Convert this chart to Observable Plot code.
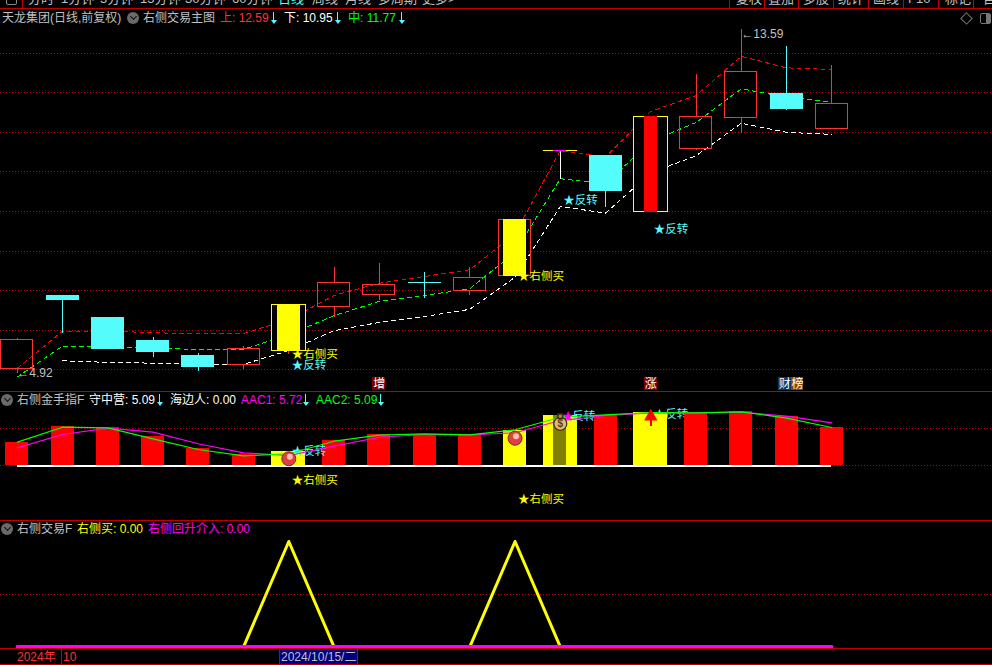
<!DOCTYPE html>
<html><head><meta charset="utf-8">
<script src="https://cdn.jsdelivr.net/npm/d3@7"></script>
<script src="https://cdn.jsdelivr.net/npm/@observablehq/plot@0.6"></script>
<style>
html,body{margin:0;padding:0;background:#000;overflow:hidden}
#page{position:relative;width:992px;height:665px;background:#000;overflow:hidden;font-family:"Liberation Sans","Noto Sans CJK SC",sans-serif;font-size:12px}
.t{position:absolute;white-space:nowrap;transform:translateY(-50%);line-height:1}
.p{position:absolute;left:0}
.p svg{display:block;background:transparent}
.h{position:absolute;left:0;width:992px;height:1px}
.v{position:absolute;width:1px}
.ic{position:absolute;width:12px;height:12px;border-radius:50%;background:#6a6a6a;transform:translate(-50%,-50%)}
.ic:after{content:"";position:absolute;left:3.5px;top:2px;width:4px;height:4px;border-right:1.5px solid #111;border-bottom:1.5px solid #111;transform:rotate(45deg)}
.as{position:absolute;width:1px;height:9px;background:#54fcfc}
.ah{position:absolute;width:0;height:0;border-left:3px solid transparent;border-right:3px solid transparent;border-top:4px solid #54fcfc}
</style></head><body><div id="page"></div>
<script>
// --- Main panel: candles (prices)
const bodyTop = [5.76,6.88,6.32,5.74,5.36,5.53,6.63,7.20,7.15,7.20,7.33,8.79,10.53,10.41,11.40,11.39,12.53,11.98,11.72];
const bodyBot = [5.02,6.76,5.52,5.44,5.06,5.12,5.47,6.58,6.89,7.20,6.99,7.37,10.53,9.50,8.98,10.57,11.36,11.58,11.08];
const highs   = [5.80,6.88,6.32,5.82,5.41,5.59,6.63,7.58,7.70,7.45,7.58,8.79,10.53,10.41,11.42,12.46,13.59,13.17,12.69];
const lows    = [4.92,5.93,5.52,5.31,4.96,5.01,5.39,6.33,6.75,6.81,6.88,7.37,9.80,9.10,8.98,10.54,10.98,11.55,11.08];
const kinds   = ["hollow","fill","fill","fill","fill","hollow","yellowBox","hollow","hollow","cross","hollow","redBox","flat","fill","redInYellow","hollow","hollow","fill","hollow"];
const upper = [5.04,5.98,5.98,5.94,5.91,5.92,6.27,6.88,7.19,7.36,7.53,8.44,10.54,10.38,11.53,11.93,12.92,12.63,12.59];
const middle= [4.82,5.60,5.57,5.56,5.51,5.52,5.89,6.37,6.73,6.88,7.05,7.97,9.83,9.70,10.77,11.25,12.10,11.89,11.77];
const lower = [null,5.23,5.19,5.17,5.14,5.14,5.49,5.99,6.20,6.35,6.53,7.34,9.13,8.96,9.98,10.41,11.23,11.00,10.95];
const priceGrid = [5,6,7,8,9,10,11,12,13];
const mainLabels = [
  {i:6,v:5.39,text:"★右侧买",color:"#ffff00"},{i:6,v:5.11,text:"★反转",color:"#54fcfc"},
  {i:11,v:7.36,text:"★右侧买",color:"#ffff00"},{i:12,v:9.28,text:"★反转",color:"#54fcfc"},
  {i:14,v:8.54,text:"★反转",color:"#54fcfc"}];
const lowMark = [{i:0,v:4.92,text:"←4.92"}];
const highMark = [{i:16,v:13.59,text:"←13.59"}];
const badges = [{i:8,text:"增",color:"#800000"},{i:14,text:"涨",color:"#800000"},{i:16.96,text:"财",color:"#003a70"},{i:17.24,text:"榜",color:"#884400"}];
// --- Second panel
const power = [3.10,5.23,5.09,3.94,2.30,1.46,1.90,3.36,4.12,4.12,4.16,4.69,6.69,6.69,7.13,7.00,7.22,6.56,5.13];
const powerKinds = ["red","red","red","red","red","red","wide","red","red","red","red","narrow","bag","red","wide","red","red","red","red"];
const aac1 = [2.39,4.16,5.00,4.47,2.93,1.73,1.37,2.61,3.80,4.16,4.12,4.39,6.02,6.69,7.05,7.05,7.13,6.60,5.72];
const aac2 = [3.14,5.13,5.05,3.59,2.17,1.33,1.60,3.27,4.07,4.25,4.12,4.79,6.46,6.78,7.09,7.05,7.18,6.33,5.09];
const powerGrid = [0,5];
const powerLabels = [
  {i:6,v:-1.96,text:"★右侧买",color:"#ffff00"},{i:11,v:-4.48,text:"★右侧买",color:"#ffff00"},
  {i:6,v:1.90,text:"★反转",color:"#54fcfc"}];
const balls = [{i:6,v:0.93},{i:11,v:3.67}];
// --- Third panel
const rightBuy = [0,0,0,0,0,0,100,0,0,0,0,100,0,0,0,0,0,0,0];
const rebound  = [0,0,0,0,0,0,0,0,0,0,0,0,0,0,0,0,0,0,0];
const signalGrid = [50];
// --- Text furniture: [left, text, colour]
const toolbarLeft = [[28,"分时","#c0c0c0"],[61,"1分钟","#c0c0c0"],[100,"5分钟","#c0c0c0"],[140,"15分钟","#c0c0c0"],[185,"30分钟","#c0c0c0"],[232,"60分钟","#c0c0c0"],[278,"日线","#54fcfc"],[312,"周线","#c0c0c0"],[345,"月线","#c0c0c0"],[378,"多周期","#c0c0c0"],[422,"更多>","#c0c0c0"]];
const toolbarRight = [[736,"复权","#c0c0c0"],[768,"叠加","#c0c0c0"],[803,"多股","#c0c0c0"],[838,"统计","#c0c0c0"],[873,"画线","#c0c0c0"],[908,"F10","#c0c0c0"],[945,"标记","#c0c0c0"],[983,"自","#c0c0c0"]];
const toolbarSeps = [22,729,764,798,833,868,903,938,973];
const head1 = [[2,"天龙集团(日线,前复权)","#c0c0c0"],[143,"右侧交易主图","#c0c0c0"],[220,"上: 12.59","#ff3232"],[284,"下: 10.95","#ffffff"],[348,"中: 11.77","#00ff00"]];
const head2 = [[17,"右侧金手指F","#c0c0c0"],[89,"守中营: 5.09","#ffffff"],[170,"海边人: 0.00","#ffffff"],[241,"AAC1: 5.72","#ff00ff"],[316,"AAC2: 5.09","#00ff00"]];
const head3 = [[17,"右侧交易F","#c0c0c0"],[77,"右侧买: 0.00","#ffff00"],[148,"右侧回升介入: 0.00","#ff00ff"]];
const arrows1 = [273,337,401];
const arrows2 = [159,305,380];

const RED="#ff3232",CY="#54fcfc",YE="#ffff00",GR="#c00000";
const FONT='"Liberation Sans","Noto Sans CJK SC",sans-serif';
const page=document.getElementById("page");
const idx=upper.map((_,i)=>i);
const candles=idx.map(i=>({i,top:bodyTop[i],bot:bodyBot[i],hi:highs[i],lo:lows[i],kind:kinds[i]}));
const byKind=(...k)=>candles.filter(d=>k.includes(d.kind));
const xScale={domain:[0,18],range:[16.8,831.3]};
const base={width:992,marginTop:0,marginRight:0,marginBottom:0,marginLeft:0,axis:null,style:{background:"transparent",fontFamily:FONT}};
const crisp={shapeRendering:"crispEdges"};
const rectH=(w)=>({x1:d=>d.i-w,x2:d=>d.i+w,y1:"bot",y2:"top"});
const series=(arr)=>idx.filter(i=>arr[i]!=null);
const dashLine=(arr,color)=>Plot.line(series(arr),{x:i=>i,y:i=>arr[i],stroke:color,strokeWidth:1,strokeDasharray:"4 4",...crisp});
const label=(rows,dx=3)=>Plot.text(rows,{x:"i",y:"v",text:"text",fill:"color",textAnchor:"start",fontSize:11.5,dx});
const mark=(rows,dy)=>Plot.text(rows,{x:"i",y:"v",text:"text",fill:"#c0c0c0",textAnchor:"start",fontSize:12,dy});

const main=Plot.plot({...base,height:383,
  x:xScale,y:{domain:[5,13],range:[361.4,44.7]},
  marks:[
    Plot.ruleY(priceGrid,{stroke:GR,strokeDasharray:"1 2",...crisp}),
    dashLine(upper,"#ff0000"),dashLine(middle,"#00ff00"),dashLine(lower,"#ffffff"),
    Plot.ruleX(byKind("hollow"),{x:"i",y1:"top",y2:"hi",stroke:RED,...crisp}),
    Plot.ruleX(byKind("hollow","yellowBox","redInYellow"),{x:"i",y1:"bot",y2:"lo",stroke:RED,...crisp}),
    Plot.rect(byKind("hollow","redBox"),{...rectH(.354),fill:"none",stroke:RED,...crisp}),
    Plot.ruleX(byKind("fill","cross"),{x:"i",y1:"hi",y2:"lo",stroke:CY,...crisp}),
    Plot.rect(byKind("fill"),{...rectH(.365),fill:CY,...crisp}),
    Plot.ruleY(byKind("cross"),{y:"top",x1:d=>d.i-.365,x2:d=>d.i+.365,stroke:CY,...crisp}),
    Plot.rect(byKind("redBox"),{...rectH(.254),fill:YE,...crisp}),
    Plot.rect(byKind("yellowBox","redInYellow"),{...rectH(.376),fill:"#000",stroke:YE,...crisp}),
    Plot.rect(byKind("yellowBox"),{...rectH(.254),fill:YE,...crisp}),
    Plot.rect(byKind("redInYellow"),{...rectH(.144),fill:"#ff0000",...crisp}),
    Plot.ruleX(byKind("flat"),{x:"i",y1:"bot",y2:"lo",stroke:"#ffffff",...crisp}),
    Plot.ruleY(byKind("flat"),{y:"top",x1:d=>d.i-.376,x2:d=>d.i+.376,stroke:YE,strokeWidth:1,...crisp}),
    Plot.ruleY(byKind("flat"),{y:"top",x1:d=>d.i-.144,x2:d=>d.i+.144,stroke:"#ff00ff",strokeWidth:1,...crisp}),
    label(mainLabels),
    mark(lowMark,0),mark(highMark,4),
    Plot.rect(badges,{x1:d=>d.i-.14,x2:d=>d.i+.14,y1:4.47,y2:4.80,fill:"color",...crisp}),
    Plot.text(badges,{x:"i",y:4.635,text:"text",fill:"#fff",fontSize:12})
  ]});

const bars=idx.map(i=>({i,v:power[i],kind:powerKinds[i]}));
const barsOf=(...k)=>bars.filter(d=>k.includes(d.kind));
const barRect=(w)=>({x1:d=>d.i-w,x2:d=>d.i+w,y1:0,y2:"v"});
const panel2=Plot.plot({...base,height:129,
  x:xScale,y:{domain:[0,5],range:[74.3,36.7]},
  marks:[
    Plot.ruleY(powerGrid,{stroke:GR,strokeDasharray:"1 2",...crisp}),
    Plot.text([{i:14,v:6.82,text:"★反转"}],{x:"i",y:"v",text:"text",fill:CY,textAnchor:"start",fontSize:11.5,dx:3}),
    Plot.rect(barsOf("red"),{...barRect(.254),fill:"#ff0000",...crisp}),
    Plot.rect(barsOf("narrow"),{...barRect(.254),fill:YE,...crisp}),
    Plot.rect(barsOf("wide","bag"),{...barRect(.38),fill:YE,...crisp}),
    Plot.rect(barsOf("bag"),{...barRect(.144),fill:"#808000",...crisp}),
    Plot.ruleY([0],{x1:0,x2:18,stroke:"#ffffff",strokeWidth:1.5,...crisp}),
    label(powerLabels),
    Plot.text([{i:12,v:6.6}],{x:"i",y:"v",text:()=>"反转",fill:CY,textAnchor:"start",fontSize:11.5,dx:12}),
    Plot.line(idx,{x:i=>i,y:i=>aac1[i],stroke:"#ff00ff",strokeWidth:1.2}),
    Plot.line(idx,{x:i=>i,y:i=>aac2[i],stroke:"#00ff00",strokeWidth:1.2}),
    Plot.text([{i:12,v:6.6}],{x:"i",y:"v",text:()=>"★",fill:"#ff00ff",textAnchor:"start",fontSize:11.5,dx:2}),
    Plot.dot(balls,{x:"i",y:"v",r:7,fill:"#e0403f",stroke:"#7a2a1e",strokeWidth:1}),
    Plot.dot(balls,{x:"i",y:"v",r:3,fill:"#f8c0b8",dx:1,dy:-2}),
    Plot.dot([{i:12,v:5.59}],{x:"i",y:"v",r:6.5,fill:"#d9bb7a",stroke:"#3a2a10",strokeWidth:1.2}),
    Plot.dot([{i:12,v:6.6}],{x:"i",y:"v",r:2.5,symbol:"square",fill:"#b58f40",stroke:"#3a2a10"}),
    Plot.text([{i:12,v:5.55}],{x:"i",y:"v",text:()=>"$",fill:"#6b3a10",fontSize:10,fontWeight:"bold"}),
    Plot.ruleX([14],{y1:5.27,y2:6.6,stroke:"#ff0000",strokeWidth:2,...crisp}),
    Plot.dot([{i:14,v:6.55}],{x:"i",y:"v",symbol:"triangle",r:5,fill:"#ff0000"})
  ]});

const panel3=Plot.plot({...base,height:128,
  x:xScale,y:{domain:[0,100],range:[126.3,21]},
  marks:[
    Plot.ruleY(signalGrid,{stroke:GR,strokeDasharray:"1 2",...crisp}),
    Plot.line(idx,{x:i=>i,y:i=>rightBuy[i],stroke:YE,strokeWidth:3}),
    Plot.line(idx,{x:i=>i,y:i=>rebound[i],stroke:"#ff00ff",strokeWidth:3,...crisp})
  ]});

function place(node,top){const d=document.createElement("div");d.className="p";d.style.top=top+"px";d.appendChild(node);page.appendChild(d);}
function text(left,y,str,color,parent=page,size){const s=document.createElement("div");s.className="t";s.style.left=left+"px";s.style.top=y+"px";s.style.color=color;if(size)s.style.fontSize=size+"px";s.textContent=str;parent.appendChild(s);return s;}
function hline(y,c="#c00000"){const d=document.createElement("div");d.className="h";d.style.top=y+"px";d.style.background=c;page.appendChild(d);}
function vline(x,y,h,c="#c00000"){const d=document.createElement("div");d.className="v";d.style.left=x+"px";d.style.top=y+"px";d.style.height=h+"px";d.style.background=c;page.appendChild(d);}
function icon(x,y){const d=document.createElement("div");d.className="ic";d.style.left=x+"px";d.style.top=y+"px";page.appendChild(d);}
function down(x,y){const s=document.createElement("div");s.className="as";s.style.left=x+"px";s.style.top=(y-6)+"px";page.appendChild(s);const h=document.createElement("div");h.className="ah";h.style.left=(x-2.5)+"px";h.style.top=(y+2)+"px";page.appendChild(h);}

place(main,8);place(panel2,391);place(panel3,520);

const bar=document.createElement("div");bar.style.cssText="position:absolute;left:0;top:0;width:992px;height:8px;overflow:hidden";page.appendChild(bar);
toolbarLeft.concat(toolbarRight).forEach(([x,s,c])=>text(x,-2.5,s,c,bar,13));
const ticon=document.createElement("div");ticon.style.cssText="position:absolute;left:6px;top:-4px;width:9px;height:7px;border:1px solid #888;border-radius:2px";bar.appendChild(ticon);
hline(8);toolbarSeps.forEach(x=>vline(x,0,8));
hline(391);hline(520);hline(648);hline(664);

head1.forEach(([x,s,c])=>text(x,18,s,c));icon(133,18);arrows1.forEach(x=>down(x,18));
head2.forEach(([x,s,c])=>text(x,400,s,c));icon(7,400);arrows2.forEach(x=>down(x,400));
head3.forEach(([x,s,c])=>text(x,529,s,c));icon(7,529);

const dia=document.createElement("div");dia.style.cssText="position:absolute;left:962px;top:14px;width:7px;height:7px;border:1px solid #777;transform:rotate(45deg)";page.appendChild(dia);
const win=document.createElement("div");win.style.cssText="position:absolute;left:980px;top:13px;width:9px;height:9px;border:1.5px solid #777;border-radius:2px;box-sizing:content-box;background:linear-gradient(90deg,transparent 55%,#777 55%)";page.appendChild(win);

const sel=document.createElement("div");sel.style.cssText="position:absolute;left:279px;top:649px;width:79px;height:15px;background:#000080;border-left:1px solid #c00000;border-right:1px solid #c00000;box-sizing:border-box";page.appendChild(sel);
vline(61,649,15);
text(17,657,"2024年",RED);text(63,657,"10",RED);text(281,657,"2024/10/15/二","#c0c0c0");
</script></body></html>
